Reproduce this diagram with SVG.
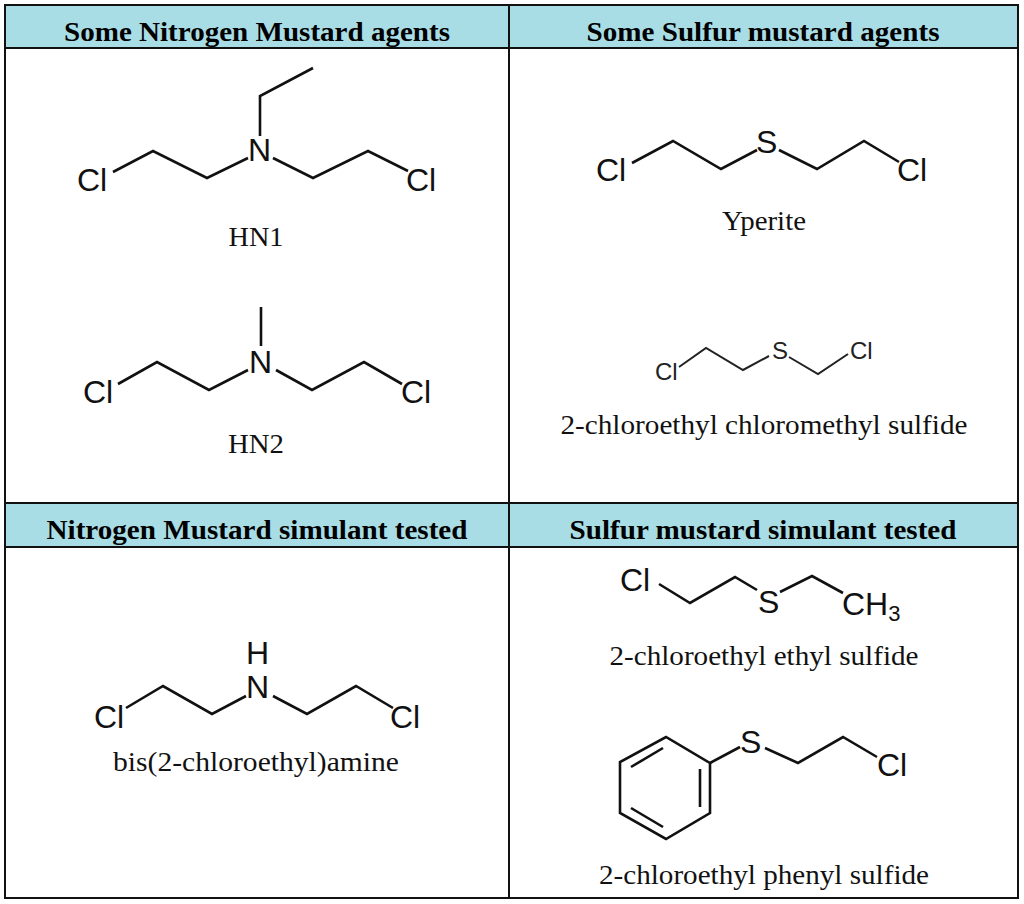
<svg xmlns="http://www.w3.org/2000/svg" width="1024" height="904" viewBox="0 0 1024 904">
<style>
.hd{font-family:"Liberation Serif",serif;font-weight:bold;font-size:27px;text-anchor:middle;fill:#000}
.lb{font-family:"Liberation Serif",serif;font-size:28px;text-anchor:middle;fill:#111}
.at{font-family:"Liberation Sans",sans-serif;font-size:32px;fill:#111}
.sm{font-family:"Liberation Sans",sans-serif;font-size:24px;fill:#222}
.b{fill:none;stroke:#111;stroke-width:2.6;stroke-linejoin:miter}
.bs{fill:none;stroke:#222;stroke-width:2}
</style>
<rect x="0" y="0" width="1024" height="904" fill="#fff"/>
<g id="table">
<rect x="5" y="5" width="1013" height="43" fill="#a8dde6"/>
<rect x="5" y="503" width="1013" height="44" fill="#a8dde6"/>
<g fill="none" stroke="#111" stroke-width="2">
<rect x="5" y="5" width="1013" height="893"/>
<line x1="5" y1="48" x2="1018" y2="48"/>
<line x1="5" y1="503" x2="1018" y2="503"/>
<line x1="5" y1="547" x2="1018" y2="547"/>
<line x1="509" y1="5" x2="509" y2="898"/>
</g>
<text class="hd" x="257" y="41" textLength="386" lengthAdjust="spacingAndGlyphs">Some Nitrogen Mustard agents</text>
<text class="hd" x="763" y="41" textLength="353" lengthAdjust="spacingAndGlyphs">Some Sulfur mustard agents</text>
<text class="hd" x="257" y="539" textLength="421" lengthAdjust="spacingAndGlyphs">Nitrogen Mustard simulant tested</text>
<text class="hd" x="763" y="539" textLength="387" lengthAdjust="spacingAndGlyphs">Sulfur mustard simulant tested</text>
</g>
<g id="hn1">
<text class="at" x="77" y="191">Cl</text>
<text class="at" x="248" y="161">N</text>
<text class="at" x="406" y="191">Cl</text>
<polyline class="b" points="113,172 153,151 207,178 248,158"/>
<polyline class="b" points="273,158 313,178 368,151 408,171"/>
<polyline class="b" points="260,136 260,96 313,68"/>
<text class="lb" x="256" y="246" textLength="55" lengthAdjust="spacingAndGlyphs">HN1</text>
</g>
<g id="hn2">
<text class="at" x="83" y="403">Cl</text>
<text class="at" x="249" y="373">N</text>
<text class="at" x="401" y="403">Cl</text>
<polyline class="b" points="118,384 157,362 209,390 248,370"/>
<polyline class="b" points="276,370 312,390 364,362 402,384"/>
<line class="b" x1="261" y1="307" x2="261" y2="346"/>
<text class="lb" x="256" y="453" textLength="56" lengthAdjust="spacingAndGlyphs">HN2</text>
</g>
<g id="bis">
<text class="at" x="246" y="664">H</text>
<text class="at" x="246" y="698">N</text>
<text class="at" x="94" y="728">Cl</text>
<text class="at" x="390" y="728">Cl</text>
<polyline class="b" points="126,708 163,686 212,714 246,696"/>
<polyline class="b" points="273,696 307,714 356,686 393,708"/>
<text class="lb" x="256" y="771" textLength="286" lengthAdjust="spacingAndGlyphs">bis(2-chloroethyl)amine</text>
</g>
<g id="yperite">
<text class="at" x="596" y="181">Cl</text>
<text class="at" x="756" y="153">S</text>
<text class="at" x="897" y="181">Cl</text>
<polyline class="b" points="632,163 673,141 721,169 757,150"/>
<polyline class="b" points="779,150 817,169 864,141 899,162"/>
<text class="lb" x="764" y="230" textLength="84" lengthAdjust="spacingAndGlyphs">Yperite</text>
</g>
<g id="cecms">
<text class="sm" x="655" y="380">Cl</text>
<text class="sm" x="772" y="359">S</text>
<text class="sm" x="850" y="359">Cl</text>
<polyline class="bs" points="679,367 706,348 743,370 769,356"/>
<polyline class="bs" points="789,357 818,374 848,354"/>
<text class="lb" x="764" y="434" textLength="407" lengthAdjust="spacingAndGlyphs">2-chloroethyl chloromethyl sulfide</text>
</g>
<g id="cees">
<text class="at" x="620" y="591">Cl</text>
<text class="at" x="758" y="613">S</text>
<text class="at" x="842" y="615">CH<tspan font-size="22" dy="6">3</tspan></text>
<polyline class="b" points="659,584 690,603 735,577 757,590"/>
<polyline class="b" points="780,592 812,576 843,593"/>
<text class="lb" x="764" y="665" textLength="309" lengthAdjust="spacingAndGlyphs">2-chloroethyl ethyl sulfide</text>
</g>
<g id="ceps">
<text class="at" x="740" y="753">S</text>
<text class="at" x="877" y="776">Cl</text>
<polygon class="b" points="710,763 666,737 620,762 620,813 666,839 710,813"/>
<line class="b" x1="631" y1="767" x2="663" y2="748"/>
<line class="b" x1="700" y1="769" x2="700" y2="807"/>
<line class="b" x1="631" y1="808" x2="663" y2="827"/>
<line class="b" x1="710" y1="763" x2="740" y2="747"/>
<polyline class="b" points="765,748 798,763 843,737 877,757"/>
<text class="lb" x="764" y="884" textLength="330" lengthAdjust="spacingAndGlyphs">2-chloroethyl phenyl sulfide</text>
</g>
</svg>
